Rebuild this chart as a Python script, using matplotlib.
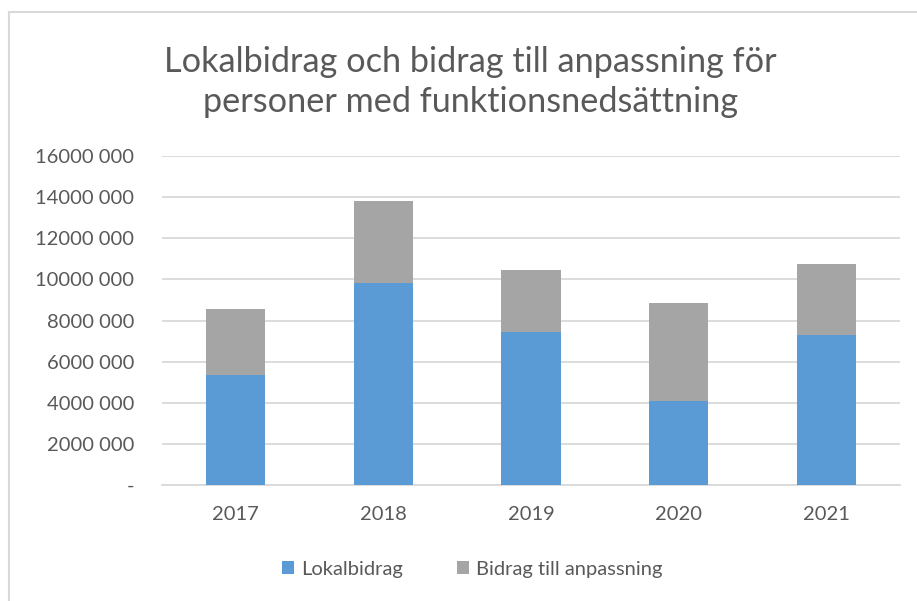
import numpy as np
import matplotlib
matplotlib.use("Agg")
import matplotlib.pyplot as plt
from matplotlib.lines import Line2D
from matplotlib.ticker import FuncFormatter

plt.rcParams["font.family"] = ["Lato", "DejaVu Sans"]

years = ["2017", "2018", "2019", "2020", "2021"]
lokalbidrag = [5340000, 9810000, 7430000, 4100000, 7300000]
anpassning = [3210000, 4000000, 3010000, 4760000, 3430000]
yticks = [0, 2000000, 4000000, 6000000, 8000000, 10000000, 12000000, 14000000, 16000000]

BLUE = "#5b9bd5"
GRAY = "#a5a5a5"
TEXT = "#595959"
GRID = "#d9d9d9"


def fmt(v, pos):
    # Swedish-ish Excel format: only the last group is separated
    if v == 0:
        return "-"
    v = int(round(v))
    return "{} {:03d}".format(v // 1000, v % 1000)


fig = plt.figure(figsize=(9.17, 6.01), dpi=100)
ax = fig.add_axes([162 / 917, 116 / 601, 738 / 917, 329 / 601])

x = np.arange(len(years))
ax.bar(x, lokalbidrag, width=0.4, color=BLUE, label="Lokalbidrag", zorder=3)
ax.bar(x, anpassning, width=0.4, bottom=lokalbidrag, color=GRAY,
       label="Bidrag till anpassning", zorder=3)

ax.set_xlim(-0.5, len(years) - 0.5)
ax.set_ylim(0, 16000000)
ax.set_yticks(yticks)
ax.yaxis.set_major_formatter(FuncFormatter(fmt))
ax.set_xticks(x)
ax.set_xticklabels(years)
ax.grid(axis="y", color=GRID, linewidth=1.3, zorder=0)
ax.tick_params(length=0, labelsize=14.5, colors=TEXT)
ax.tick_params(axis="y", pad=20)
ax.tick_params(axis="x", pad=15)
for s in ["top", "right", "left"]:
    ax.spines[s].set_visible(False)
ax.spines["bottom"].set_color(GRID)
ax.spines["bottom"].set_linewidth(1.3)

fig.text(0.513, 1 - 82 / 601, "Lokalbidrag och bidrag till anpassning för\npersoner med funktionsnedsättning",
         ha="center", va="center", fontsize=24.7, color=TEXT, linespacing=1.3)

ax.legend(loc="center", bbox_to_anchor=(0.515, 1 - 569 / 601), bbox_transform=fig.transFigure,
          ncol=2, frameon=False, fontsize=14.5, labelcolor=TEXT, handlelength=0.6,
          handleheight=0.6, columnspacing=2.7, handletextpad=0.35)

# chart border
fig.add_artist(Line2D([8.5 / 917, 8.5 / 917], [0, 1 - 12 / 601], transform=fig.transFigure,
                      color=GRID, linewidth=1.5))
fig.add_artist(Line2D([8.5 / 917, 1], [1 - 12 / 601, 1 - 12 / 601], transform=fig.transFigure,
                      color=GRID, linewidth=1.5))

fig.savefig("out.png", dpi=100)
